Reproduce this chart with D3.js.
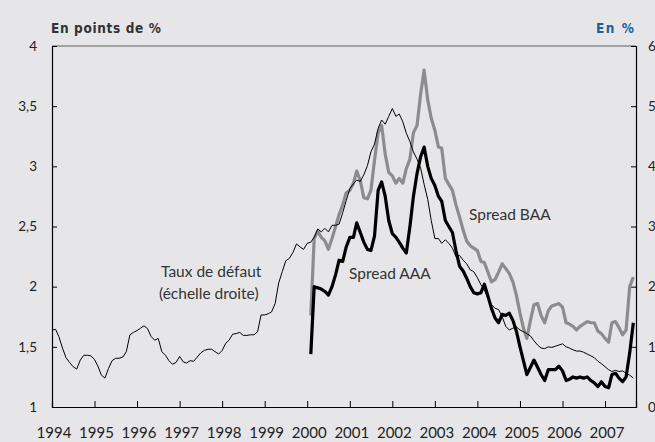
<!DOCTYPE html>
<html><head><meta charset="utf-8">
<script src="https://cdn.jsdelivr.net/npm/d3@7"></script>
<style>
html,body{margin:0;padding:0;background:#e6e6e8;}
svg{display:block;}
</style></head>
<body><svg id="c" width="655" height="442"></svg>
<script>
// Monthly default rate (right scale, %), Jan 1994 .. Sep 2007
const defaultRate = [
1.28,1.29,1.17,0.98,0.82,0.74,0.67,0.63,0.78,0.86,0.86,0.85,
0.79,0.67,0.53,0.48,0.64,0.77,0.81,0.81,0.83,0.92,1.20,1.24,
1.27,1.31,1.35,1.30,1.17,1.11,1.14,0.92,0.86,0.77,0.71,0.74,
0.84,0.75,0.73,0.77,0.76,0.83,0.90,0.94,0.96,0.96,0.92,0.88,
0.94,1.06,1.11,1.21,1.22,1.24,1.19,1.19,1.20,1.20,1.25,1.53,
1.53,1.55,1.58,1.72,2.06,2.25,2.43,2.47,2.57,2.71,2.66,2.62,
2.72,2.74,2.82,2.96,2.91,2.97,2.91,3.02,3.02,3.04,3.23,3.43,
3.63,3.71,3.77,3.75,3.86,4.01,4.24,4.37,4.63,4.77,4.70,4.83,
4.96,4.83,4.87,4.74,4.55,4.41,4.24,4.12,3.97,3.70,3.45,3.10,
2.80,2.80,2.72,2.78,2.72,2.64,2.50,2.52,2.44,2.38,2.28,2.25,
2.15,2.03,1.95,1.80,1.70,1.64,1.62,1.50,1.34,1.28,1.31,1.33,
1.28,1.25,1.22,1.18,1.10,1.03,0.98,0.97,1.00,0.99,1.01,1.03,
1.05,1.00,0.98,0.95,0.93,0.93,0.91,0.88,0.85,0.82,0.76,0.72,
0.67,0.62,0.59,0.61,0.59,0.60,0.56,0.53,0.48];
// Monthly spreads (left scale, percentage points), Feb 2000 .. Sep 2007
const spreadAAA = [
1.44,2.00,1.99,1.98,1.96,1.93,2.00,2.10,2.22,2.21,2.33,
2.41,2.41,2.53,2.45,2.37,2.31,2.30,2.42,2.80,2.87,2.75,2.55,
2.44,2.41,2.37,2.32,2.28,2.50,2.75,2.94,3.08,3.16,3.00,2.90,
2.84,2.75,2.71,2.55,2.50,2.45,2.30,2.17,2.13,2.07,2.00,1.95,
1.94,1.95,2.02,1.92,1.82,1.74,1.70,1.77,1.76,1.78,1.72,1.63,
1.50,1.38,1.27,1.33,1.39,1.33,1.27,1.22,1.31,1.31,1.31,1.34,
1.30,1.22,1.23,1.25,1.24,1.25,1.24,1.25,1.22,1.20,1.17,1.21,
1.17,1.16,1.27,1.28,1.24,1.21,1.25,1.45,1.70];
const spreadBAA = [
1.76,2.40,2.46,2.41,2.38,2.31,2.40,2.50,2.60,2.68,2.78,
2.80,2.86,2.96,2.88,2.74,2.73,2.80,3.05,3.28,3.34,3.10,2.95,
2.92,2.86,2.90,2.86,2.98,3.06,3.28,3.34,3.60,3.80,3.55,3.40,
3.30,3.16,3.15,2.90,2.85,2.80,2.68,2.58,2.47,2.38,2.34,2.32,
2.30,2.21,2.20,2.12,2.04,2.06,2.12,2.19,2.15,2.11,2.04,1.93,
1.78,1.65,1.57,1.72,1.85,1.86,1.76,1.70,1.80,1.84,1.85,1.86,
1.83,1.70,1.69,1.67,1.64,1.67,1.69,1.71,1.70,1.70,1.63,1.61,
1.57,1.54,1.70,1.71,1.66,1.60,1.64,2.00,2.08];
const years = [1994,1995,1996,1997,1998,1999,2000,2001,2002,2003,2004,2005,2006,2007];
const leftTicks = [1,1.5,2,2.5,3,3.5,4];
const rightTicks = [0,1,2,3,4,5,6];
const seriesStartDefault = new Date(1994,0,1);
const seriesStartSpread = new Date(2000,1,1);

const L=52, R=636, T=46, B=407;
const svg = d3.select("#c");
svg.append("rect").attr("width",655).attr("height",442).attr("fill","#e6e6e8");

const x = d3.scaleTime().domain([new Date(1994,0,1), new Date(2007,8,24)]).range([L,R]);
const yL = d3.scaleLinear().domain([1,4]).range([B,T]);
const yR = d3.scaleLinear().domain([0,6]).range([B,T]);

const tickFont = "Lato, 'Open Sans', sans-serif";
const fmt = v => String(v).replace(".", ",");

// top border
svg.append("line").attr("x1",L).attr("x2",R).attr("y1",T).attr("y2",T)
  .attr("stroke","#8a8a8a").attr("stroke-width",1.3);

// left axis
const gl = svg.append("g").attr("transform",`translate(${L},0)`)
  .call(d3.axisLeft(yL).tickValues(leftTicks).tickSize(-5).tickPadding(15).tickFormat(fmt));
// right axis
const gr = svg.append("g").attr("transform",`translate(${R},0)`)
  .call(d3.axisRight(yR).tickValues(rightTicks).tickSize(-5).tickPadding(12).tickFormat(d=>String(d)));
// bottom axis
const gb = svg.append("g").attr("transform",`translate(0,${B})`)
  .call(d3.axisBottom(x).tickValues(years.map(y=>new Date(y,0,1))).tickSize(-6).tickPadding(20).tickFormat(d3.timeFormat("%Y")));
[gl,gr,gb].forEach(g=>{
  g.select(".domain").attr("stroke","#000").attr("stroke-width",1.2);
  g.selectAll(".tick line").attr("stroke","#000").attr("stroke-width",1);
  g.selectAll("text").attr("font-family",tickFont).attr("font-size",13.5).attr("fill","#222");
});
gb.selectAll(".tick text").attr("dx",1.5).attr("font-size",15);

// lines
const lineL = (start) => d3.line().x((d,i)=>x(d3.timeMonth.offset(start,i))).y(d=>yL(d));
const lineR = (start) => d3.line().x((d,i)=>x(d3.timeMonth.offset(start,i))).y(d=>yR(d));

svg.append("path").datum(spreadBAA).attr("d",lineL(seriesStartSpread))
  .attr("fill","none").attr("stroke","#8c8c8c").attr("stroke-width",3.2).attr("stroke-linejoin","round");
svg.append("path").datum(spreadAAA).attr("d",lineL(seriesStartSpread))
  .attr("fill","none").attr("stroke","#000").attr("stroke-width",3.2).attr("stroke-linejoin","round");
svg.append("path").datum(defaultRate).attr("d",lineR(seriesStartDefault))
  .attr("fill","none").attr("stroke","#000").attr("stroke-width",1).attr("stroke-linejoin","round");

// titles
const titleFont = "'DejaVu Sans Condensed','Liberation Sans Narrow',sans-serif";
svg.append("text").attr("x",51).attr("y",33).text("En points de %")
  .attr("font-family",titleFont).attr("font-size",13.5).attr("font-weight","bold")
  .attr("textLength",110).attr("lengthAdjust","spacing").attr("fill","#333");
svg.append("text").attr("x",596).attr("y",33).text("En %")
  .attr("font-family",titleFont).attr("font-size",13.5).attr("font-weight","bold")
  .attr("textLength",38).attr("lengthAdjust","spacing").attr("fill","#1c5e9c");

// annotations
const annFont = "Lato, 'Open Sans', sans-serif";
const ann = (t,xx,yy)=>svg.append("text").attr("x",xx).attr("y",yy).text(t)
  .attr("font-family",annFont).attr("font-size",15.5).attr("fill","#333");
ann("Taux de défaut",161,277);
ann("(échelle droite)",159,299);
ann("Spread AAA",349,279);
ann("Spread BAA",469,220);
</script></body></html>
